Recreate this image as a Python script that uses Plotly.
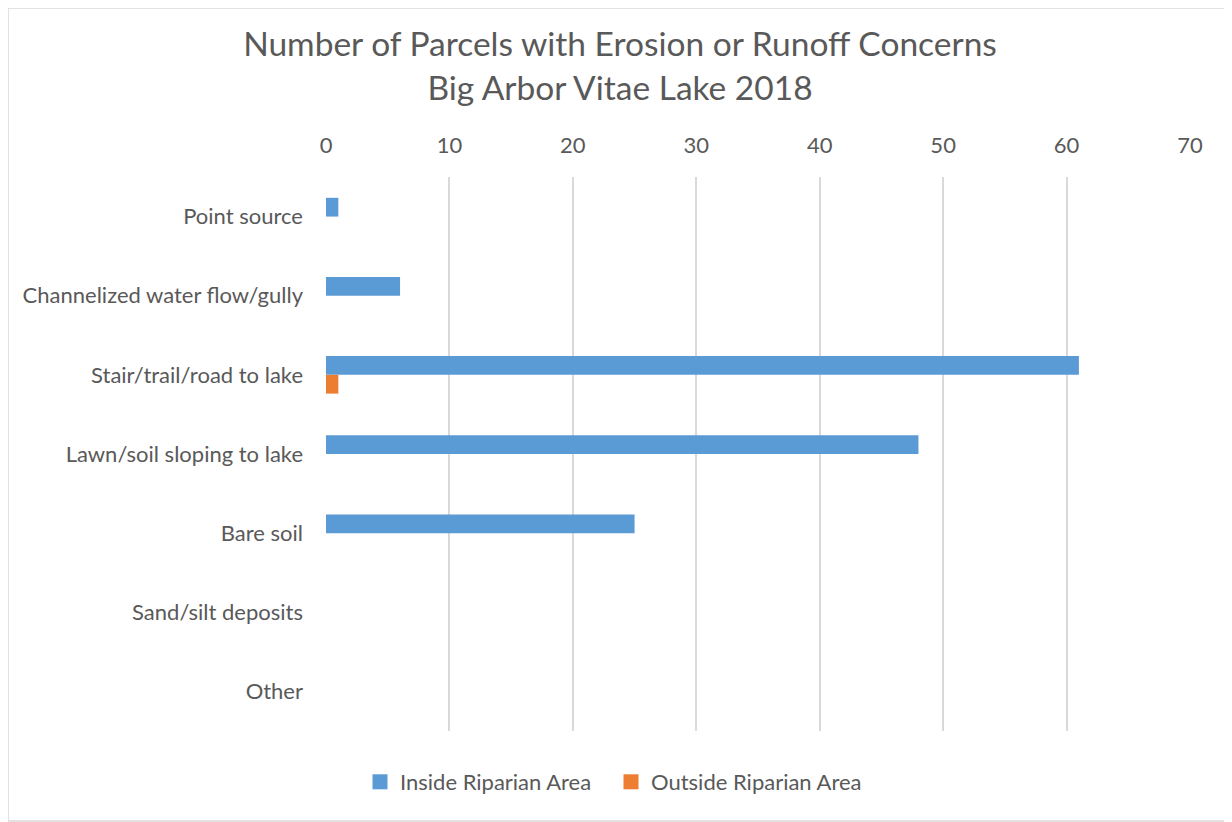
import plotly.graph_objects as go

categories = ["Point source", "Channelized water flow/gully", "Stair/trail/road to lake",
              "Lawn/soil sloping to lake", "Bare soil", "Sand/silt deposits", "Other"]
inside = [1, 6, 61, 48, 25, 0, 0]
outside = [0, 0, 1, 0, 0, 0, 0]
x_ticks = [0, 10, 20, 30, 40, 50, 60, 70]

FONT = "Lato"
GREY = "#595959"
BLUE = "#5B9BD5"
ORANGE = "#ED7D31"

W, H = 1224, 814
ML, MR, MT, MB = 318, 42, 169, 91
PW, PH = W - ML - MR, H - MT - MB

fig = go.Figure()
fig.add_trace(go.Bar(y=categories, x=inside, orientation="h", name="Inside Riparian Area",
                     marker=dict(color=BLUE, line=dict(width=0)), showlegend=False))
fig.add_trace(go.Bar(y=categories, x=outside, orientation="h", name="Outside Riparian Area",
                     marker=dict(color=ORANGE, line=dict(width=0)), showlegend=False))
# legend entries with larger square symbols
for name, col in [("Inside Riparian Area", BLUE), ("Outside Riparian Area", ORANGE)]:
    fig.add_trace(go.Scatter(x=[None], y=[None], mode="markers", name=name,
                             marker=dict(symbol="square", size=15, color=col)))

fig.update_layout(
    width=W, height=H,
    paper_bgcolor="white", plot_bgcolor="white",
    barmode="group", bargap=0.526, bargroupgap=0,
    margin=dict(l=ML, r=MR, t=MT, b=MB, autoexpand=False),
    font=dict(family=FONT, color=GREY, size=22),
    title=dict(text="Number of Parcels with Erosion or Runoff Concerns<br>Big Arbor Vitae Lake 2018",
               x=0.5, xanchor="center", y=1 - 48 / H, yanchor="middle",
               font=dict(family=FONT, size=33.5, color=GREY)),
    legend=dict(orientation="h", x=(360 - 8 - ML) / PW, xanchor="left",
                y=-(782 - 8 - (MT + PH)) / PH, yanchor="middle",
                font=dict(size=22, color=GREY), traceorder="normal", itemwidth=30,
                entrywidth=206, entrywidthmode="pixels"),
)
fig.add_shape(type="rect", xref="x domain", yref="y domain",
              x0=-ML / PW, x1=1 + (MR - 1) / PW, y0=-(MB - 1) / PH, y1=1 + MT / PH,
              line=dict(color="#d9d9d9", width=1.5), fillcolor="rgba(0,0,0,0)")

fig.update_xaxes(range=[0, 70], tickvals=x_ticks, side="top", showgrid=True,
                 gridcolor="#d9d9d9", gridwidth=1.5, zeroline=False, showline=False,
                 ticks="", ticklabelstandoff=19, tickfont=dict(size=22, color=GREY), fixedrange=True)
fig.update_yaxes(categoryorder="array", categoryarray=categories, autorange="reversed",
                 showgrid=False, zeroline=False, showline=False, ticks="",
                 ticklabelstandoff=22, tickfont=dict(size=22, color=GREY))

fig.write_html("out.html")
